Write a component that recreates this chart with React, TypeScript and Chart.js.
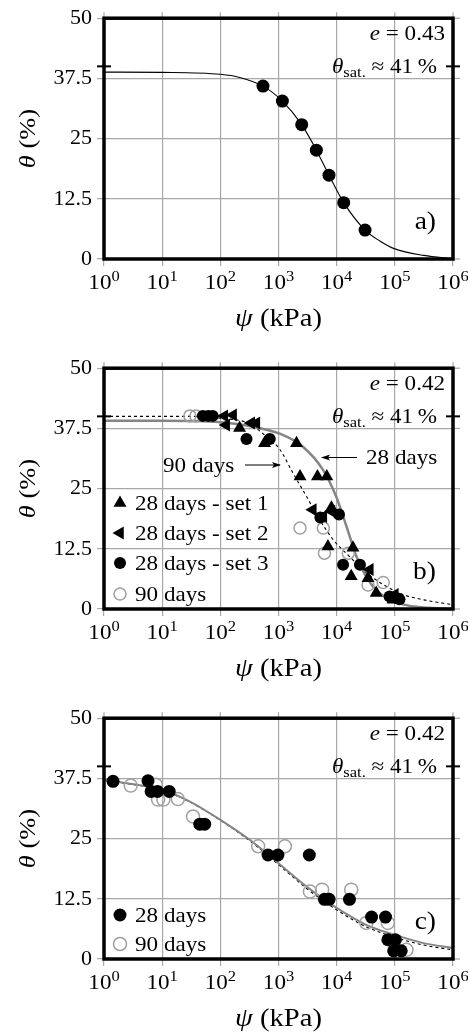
import React, { useEffect, useRef } from 'react';
import { Chart, registerables } from 'chart.js';
Chart.register(...registerables);

const FONT = '"Liberation Serif", "Times New Roman", serif';
const GRID = '#a8a8a8';
const OPEN = '#a0a0a0';
const FIT28 = '#858585';
const STRETCH = 1.1;

const xTickValues = [1, 10, 100, 1000, 10000, 100000, 1000000];
const xTickExponents = ['0', '1', '2', '3', '4', '5', '6'];
const yTickValues = [0, 12.5, 25, 37.5, 50];
const thetaSatMark = 40;

// ---- panel a) e = 0.43
const aPsi = [541, 1167, 2506, 4477, 7380, 13213, 30761];
const aTheta = [35.9, 32.8, 27.9, 22.6, 17.4, 11.7, 6.0];
const aFitPsi = [1, 10, 100, 215, 541, 1167, 2506, 4477, 7380, 13213, 30761, 56000, 100000, 316000, 1000000];
const aFitTheta = [38.8, 38.75, 38.35, 37.7, 35.9, 32.8, 27.9, 22.6, 17.4, 11.7, 6.0, 3.7, 2.1, 0.75, 0.05];

// ---- panel b) e = 0.42
const bSet1Psi = [214, 575, 2042, 2344, 4677, 6761, 8128, 7079, 19055, 17783, 34674, 47863, 93325];
const bSet1Theta = [37.6, 34.4, 34.4, 27.5, 27.5, 27.5, 21.0, 13.0, 12.7, 6.8, 6.4, 3.3, 1.9];
const bSet2Psi = [117, 166, 126, 339, 417, 3890, 5888, 8128, 37154, 100000];
const bSet2Theta = [40.1, 40.3, 38.2, 38.6, 38.6, 20.6, 19.2, 20.3, 8.2, 3.0];
const bSet3Psi = [50, 62, 74, 282, 708, 5248, 10965, 12882, 25119, 81283, 107152, 120226];
const bSet3Theta = [40.1, 40.1, 40.1, 35.3, 35.3, 19.0, 19.6, 9.2, 9.2, 2.6, 2.3, 2.0];
const b90Psi = [30, 38, 2344, 5888, 6166, 15849, 34674, 63096];
const b90Theta = [40.1, 40.1, 16.8, 16.8, 11.6, 11.6, 5.0, 5.5];
const bFit28Psi = [1, 10, 100, 316, 1050, 2630, 5820, 9770, 14800, 21900, 41700, 81300, 158000, 316000, 1000000];
const bFit28Theta = [39.1, 39.1, 38.8, 38.0, 36.4, 33.7, 28.9, 23.4, 17.1, 10.9, 4.7, 1.9, 0.8, 0.3, 0.05];
const bFit90Psi = [1, 30, 100, 316, 617, 1047, 1778, 3020, 5129, 8710, 16600, 32400, 120000, 316000, 1000000];
const bFit90Theta = [40, 40, 39.6, 38.5, 35.8, 33.2, 28.2, 23.4, 18.5, 14.4, 10.9, 7.5, 3.3, 1.9, 0.9];

// ---- panel c) e = 0.42
const c28Psi = [1.43, 5.71, 6.46, 8.32, 13.2, 44.3, 53.7, 661, 977, 3388, 6166, 7413, 16596, 39811, 69183, 75858, 102329, 95499, 128825];
const c28Theta = [36.9, 37.0, 34.8, 34.8, 34.8, 28.0, 28.0, 21.6, 21.6, 21.6, 12.4, 12.4, 12.4, 8.7, 8.7, 4.0, 4.0, 1.7, 1.7];
const c90Psi = [2.88, 7.76, 8.51, 10.5, 18.6, 33.9, 447, 1288, 3467, 5623, 17783, 32359, 75858, 158489];
const c90Theta = [36.0, 36.2, 33.1, 33.1, 33.2, 29.6, 23.4, 23.4, 14.0, 14.4, 14.4, 7.5, 7.5, 1.9];
const cFit28Psi = [1, 10, 30, 100, 316, 1000, 3000, 10000, 32000, 100000, 310000, 1000000];
const cFit28Theta = [37.2, 35.1, 32.7, 28.9, 24.8, 19.9, 15.1, 10.6, 7.1, 5.0, 3.3, 2.3];
const cFit90Psi = [1, 10, 30, 100, 316, 1000, 3000, 10000, 32000, 100000, 310000, 1000000];
const cFit90Theta = [37.1, 35.0, 32.6, 28.8, 24.6, 19.6, 14.7, 10.2, 6.7, 4.5, 2.9, 1.9];

const pts = (xs: number[], ys: number[]) => xs.map((x, i) => ({ x, y: ys[i] }));

type Part = { text: string; font: string; dy?: number };
const f = (size: number, italic = false) => `${italic ? 'italic ' : ''}${size}px ${FONT}`;

function partsWidth(ctx: CanvasRenderingContext2D, parts: Part[]) {
  let w = 0;
  for (const p of parts) { ctx.font = p.font; w += ctx.measureText(p.text).width; }
  return w * STRETCH;
}
function drawParts(ctx: CanvasRenderingContext2D, parts: Part[], x0: number, y: number) {
  ctx.save();
  ctx.translate(x0, y);
  ctx.scale(STRETCH, 1);
  let x = 0;
  for (const p of parts) {
    ctx.font = p.font;
    ctx.fillText(p.text, x, p.dy || 0);
    x += ctx.measureText(p.text).width;
  }
  ctx.restore();
}

type MarkerStyle = 'tri' | 'triL' | 'dot' | 'open';
function drawMarker(ctx: CanvasRenderingContext2D, style: MarkerStyle, x: number, y: number, r: number) {
  ctx.save();
  ctx.beginPath();
  if (style === 'dot' || style === 'open') {
    ctx.arc(x, y, r, 0, Math.PI * 2);
    if (style === 'dot') { ctx.fillStyle = '#000'; ctx.fill(); }
    else { ctx.strokeStyle = OPEN; ctx.lineWidth = 1.5; ctx.stroke(); }
  } else {
    let rad = style === 'triL' ? -Math.PI / 2 : 0;
    for (let k = 0; k < 3; k++) {
      const px = x + Math.sin(rad) * r, py = y - Math.cos(rad) * r;
      if (k === 0) ctx.moveTo(px, py); else ctx.lineTo(px, py);
      rad += (2 * Math.PI) / 3;
    }
    ctx.closePath();
    ctx.fillStyle = '#000';
    ctx.fill();
  }
  ctx.restore();
}

type Arrow = { text: string; textX: number; textY: number; x1: number; x2: number; y: number };
type Spec = {
  height: number;
  datasets: any[];
  eValue: string;
  letter: string;
  legend?: { label: string; style: MarkerStyle; r: number }[];
  legendRows?: number[];
  arrows?: Arrow[];
};

function line(ctx: CanvasRenderingContext2D, x1: number, y1: number, x2: number, y2: number) {
  ctx.beginPath(); ctx.moveTo(x1, y1); ctx.lineTo(x2, y2); ctx.stroke();
}

function decoPlugin(spec: Spec) {
  return {
    id: 'deco',
    afterDraw(chart: any) {
      const { ctx, chartArea: ca } = chart;
      const xs = chart.scales.x, ys = chart.scales.y;
      ctx.save();
      ctx.strokeStyle = GRID; ctx.lineWidth = 1.2;
      for (const t of xs.ticks) { const px = xs.getPixelForValue(t.value); line(ctx, px, ca.top - 6, px, ca.top); }
      for (const t of ys.ticks) { const py = ys.getPixelForValue(t.value); line(ctx, ca.right, py, ca.right + 7, py); }
      ctx.strokeStyle = '#000'; ctx.lineWidth = 3.5;
      ctx.strokeRect(ca.left, ca.top, ca.right - ca.left, ca.bottom - ca.top);
      const yS = ys.getPixelForValue(thetaSatMark);
      ctx.lineWidth = 2;
      line(ctx, ca.left - 7, yS, ca.left + 7, yS);
      line(ctx, ca.right - 7, yS, ca.right + 7, yS);
      ctx.fillStyle = '#000';
      ctx.textBaseline = 'alphabetic';
      ctx.textAlign = 'left';
      xs.ticks.forEach((t: any, i: number) => {
        const px = xs.getPixelForValue(t.value);
        const parts: Part[] = [{ text: '10', font: f(21) }, { text: xTickExponents[i], font: f(15), dy: -8.5 }];
        const w = partsWidth(ctx, parts);
        drawParts(ctx, parts, px - w / 2, 289);
      });
      const xt: Part[] = [{ text: 'ψ', font: f(26, true) }, { text: ' (kPa)', font: f(26) }];
      const cx = (ca.left + ca.right) / 2;
      drawParts(ctx, xt, cx - partsWidth(ctx, xt) / 2, 326);
      const yt: Part[] = [{ text: 'θ', font: f(24, true) }, { text: ' (%)', font: f(24) }];
      ctx.save();
      ctx.translate(35, (ca.top + ca.bottom) / 2);
      ctx.rotate(-Math.PI / 2);
      drawParts(ctx, yt, -partsWidth(ctx, yt) / 2, 0);
      ctx.restore();
      const eParts: Part[] = [{ text: 'e', font: f(21, true) }, { text: ' = ' + spec.eValue, font: f(21) }];
      drawParts(ctx, eParts, 445 - partsWidth(ctx, eParts), 40);
      const sParts: Part[] = [
        { text: 'θ', font: f(21, true) },
        { text: 'sat.', font: f(15), dy: 4 },
        { text: ' ≈ 41\u2009%', font: f(21) },
      ];
      drawParts(ctx, sParts, 437 - partsWidth(ctx, sParts), 73);
      const lParts: Part[] = [{ text: spec.letter, font: f(25) }];
      drawParts(ctx, lParts, 436 - partsWidth(ctx, lParts), 229);
      if (spec.legend && spec.legendRows) {
        spec.legend.forEach((it, i) => {
          const ry = spec.legendRows![i];
          drawMarker(ctx, it.style, 120, ry, it.r);
          drawParts(ctx, [{ text: it.label, font: f(21) }], 135, ry + 7);
        });
      }
      if (spec.arrows) {
        for (const a of spec.arrows) {
          drawParts(ctx, [{ text: a.text, font: f(21) }], a.textX, a.textY);
          ctx.strokeStyle = '#000'; ctx.lineWidth = 1.1;
          line(ctx, a.x1, a.y, a.x2, a.y);
          const dir = a.x2 > a.x1 ? 1 : -1;
          ctx.beginPath();
          ctx.moveTo(a.x2 + dir * 1, a.y);
          ctx.lineTo(a.x2 - dir * 8, a.y - 3);
          ctx.lineTo(a.x2 - dir * 6, a.y);
          ctx.lineTo(a.x2 - dir * 8, a.y + 3);
          ctx.closePath();
          ctx.fillStyle = '#000';
          ctx.fill();
        }
      }
      ctx.restore();
    },
  };
}

function makeConfig(spec: Spec): any {
  const H = spec.height;
  const gridOpts = { color: GRID, lineWidth: 1.2, tickLength: 7, drawTicks: true, tickColor: GRID };
  return {
    type: 'scatter',
    data: { datasets: spec.datasets },
    plugins: [decoPlugin(spec)],
    options: {
      responsive: false,
      maintainAspectRatio: false,
      animation: false,
      devicePixelRatio: 1,
      layout: { padding: { top: 18, right: 15, left: 0, bottom: 0 } },
      plugins: { legend: { display: false }, tooltip: { enabled: false } },
      scales: {
        x: {
          type: 'logarithmic', min: 1, max: 1000000,
          afterBuildTicks: (s: any) => { s.ticks = xTickValues.map((v) => ({ value: v })); },
          afterFit: (s: any) => { s.height = H - 259; },
          ticks: { display: false },
          grid: gridOpts,
          border: { display: false },
        },
        y: {
          type: 'linear', min: 0, max: 50,
          afterBuildTicks: (s: any) => { s.ticks = yTickValues.map((v) => ({ value: v })); },
          afterFit: (s: any) => { s.width = 104; },
          ticks: { font: { family: FONT, size: 22 }, color: '#000', padding: 5, callback: (v: any) => String(v) },
          grid: gridOpts,
          border: { display: false },
        },
      },
    },
  };
}

const fitLine = (data: any[], color: string, width: number, dash: number[] = []) => ({
  data, showLine: true, borderColor: color, borderWidth: width, borderDash: dash,
  pointRadius: 0, cubicInterpolationMode: 'monotone', tension: 0.4, order: 10, fill: false,
});
const scatterSet = (data: any[], style: MarkerStyle, r: number) => ({
  data, showLine: false, order: 0,
  pointRadius: r,
  pointStyle: style === 'tri' || style === 'triL' ? 'triangle' : 'circle',
  pointRotation: style === 'triL' ? -90 : 0,
  pointBackgroundColor: style === 'open' ? 'rgba(0,0,0,0)' : '#000',
  pointBorderColor: style === 'open' ? OPEN : '#000',
  pointBorderWidth: style === 'open' ? 1.5 : 0,
});

const specs: Spec[] = [
  {
    height: 350,
    eValue: '0.43',
    letter: 'a)',
    datasets: [
      scatterSet(pts(aPsi, aTheta), 'dot', 6.5),
      fitLine(pts(aFitPsi, aFitTheta), '#000', 1.1),
    ],
  },
  {
    height: 350,
    eValue: '0.42',
    letter: 'b)',
    datasets: [
      scatterSet(pts(bSet1Psi, bSet1Theta), 'tri', 7.5),
      scatterSet(pts(bSet2Psi, bSet2Theta), 'triL', 7.5),
      scatterSet(pts(bSet3Psi, bSet3Theta), 'dot', 6),
      scatterSet(pts(b90Psi, b90Theta), 'open', 6),
      fitLine(pts(bFit28Psi, bFit28Theta), FIT28, 2.5),
      fitLine(pts(bFit90Psi, bFit90Theta), '#000', 1.1, [3, 3]),
    ],
    legend: [
      { label: '28 days - set 1', style: 'tri', r: 7.5 },
      { label: '28 days - set 2', style: 'triL', r: 7.5 },
      { label: '28 days - set 3', style: 'dot', r: 6 },
      { label: '90 days', style: 'open', r: 6 },
    ],
    legendRows: [153, 183, 213, 244],
    arrows: [
      { text: '90 days', textX: 163, textY: 122, x1: 245, x2: 280, y: 115 },
      { text: '28 days', textX: 366, textY: 113.5, x1: 357, x2: 322, y: 107.5 },
    ],
  },
  {
    height: 332,
    eValue: '0.42',
    letter: 'c)',
    datasets: [
      scatterSet(pts(c28Psi, c28Theta), 'dot', 6.5),
      scatterSet(pts(c90Psi, c90Theta), 'open', 6.5),
      fitLine(pts(cFit28Psi, cFit28Theta), FIT28, 2),
      fitLine(pts(cFit90Psi, cFit90Theta), '#000', 1.1, [3, 3]),
    ],
    legend: [
      { label: '28 days', style: 'dot', r: 6.5 },
      { label: '90 days', style: 'open', r: 6.5 },
    ],
    legendRows: [215, 244],
  },
];

function Panel({ spec }: { spec: Spec }) {
  const ref = useRef<HTMLCanvasElement | null>(null);
  useEffect(() => {
    if (!ref.current) return;
    const chart = new Chart(ref.current, makeConfig(spec));
    return () => chart.destroy();
  }, [spec]);
  return (
    <canvas
      ref={ref}
      width={468}
      height={spec.height}
      style={{ display: 'block', width: 468, height: spec.height }}
    />
  );
}

export default function App() {
  return (
    <div style={{ position: 'absolute', left: 0, top: 0, width: 468, height: 1032, background: '#fff' }}>
      {specs.map((s, i) => (
        <Panel key={i} spec={s} />
      ))}
    </div>
  );
}
